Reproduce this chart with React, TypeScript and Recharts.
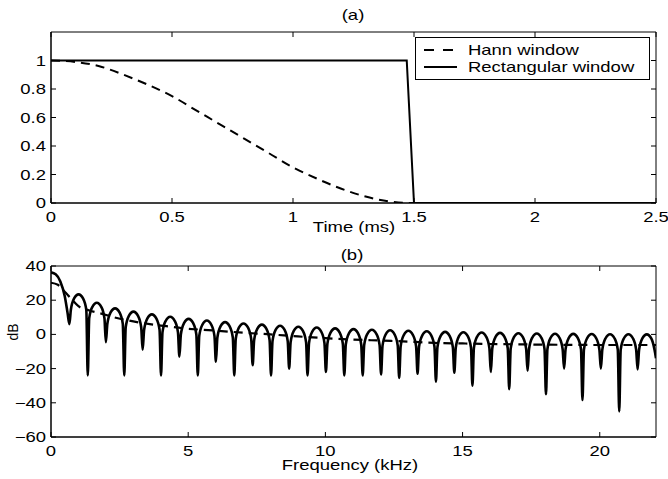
import { LineChart, Line, XAxis, YAxis, ReferenceArea, Legend } from 'recharts';

// (a) time domain windows
const timeTicks = [0, 0.5, 1, 1.5, 2, 2.5];
const ampTicks = [0, 0.2, 0.4, 0.6, 0.8, 1];
const hannTime = [0, 0.1, 0.2, 0.3, 0.4, 0.5, 0.6, 0.7, 0.8, 0.9, 1.0, 1.1, 1.2, 1.3, 1.4, 1.5, 2.5];
const hannAmp = [1, 0.99, 0.96, 0.9, 0.83, 0.75, 0.65, 0.55, 0.45, 0.35, 0.25, 0.17, 0.1, 0.045, 0.01, 0, 0];
const rectTime = [0, 1.47, 1.5, 2.5];
const rectAmp = [1, 1, 0, 0];

// (b) spectra
const freqTicks = [0, 5, 10, 15, 20];
const dbTicks = [-60, -40, -20, 0, 20, 40];
const hannFreq = [0, 0.25, 0.5, 0.7, 1.0, 1.4, 1.8, 2.4, 3.0, 3.6, 4.2, 4.8, 5.4, 6.0, 7.0, 8.0, 9.0, 10.0, 11.0, 12.0, 13.0, 14.0, 15.0, 16.0, 17.0, 18.0, 19.0, 20.0, 21.0, 22.05];
const hannDb = [30.2, 29, 25, 21.5, 16.5, 14, 12.3, 9.6, 7.6, 6, 4.8, 3.6, 2.8, 2.2, 1.0, 0, -1.2, -2.2, -3.0, -3.6, -4.2, -5.0, -5.3, -5.6, -5.8, -6.0, -6.1, -6.2, -6.2, -6.2];

const mainLobeFreq = [0, 0.17, 0.34, 0.5, 0.6];
const mainLobeDb = [36.3, 35.2, 31, 22.5, 13];
const nullKHz = [0.67, 1.34, 2.0, 2.67, 3.34, 4.01, 4.68, 5.35, 6.01, 6.68, 7.35, 8.02, 8.68, 9.35, 10.02, 10.69, 11.36, 12.03, 12.69, 13.36, 14.03, 14.7, 15.36, 16.03, 16.7, 17.37, 18.04, 18.7, 19.37, 20.04, 20.71, 21.38, 22.05];
const nullDb = [6, -24, -4.5, -24, -9, -24, -13, -24, -16, -24, -18, -24, -20, -24, -22, -24, -24, -23.4, -25.4, -23, -27.7, -22.4, -30, -22, -32, -21.3, -35, -20, -38.4, -20, -45, -20.5, -14];
const lobePeakDb = [23.4, 18.5, 15.2, 13.3, 11.7, 10.3, 9.1, 8.1, 7.2, 6.4, 5.7, 5.1, 4.5, 4.0, 3.5, 3.1, 2.7, 2.4, 2.1, 1.8, 1.5, 1.3, 1.1, 0.9, 0.7, 0.5, 0.4, 0.3, 0.2, 0.1, 0.1, 0.0];
// typical side-lobe outline, relative to its peak
const lobeShapePos = [0.08, 0.25, 0.5, 0.75, 0.92];
const lobeShapeDb = [-9, -2.5, 0, -2.5, -9];

const legendItems = [
  { label: 'Hann window', dash: '10 9' },
  { label: 'Rectangular window', dash: undefined },
];

const hannWin = hannTime.map((t, i) => ({ t, v: hannAmp[i] }));
const rectWin = rectTime.map((t, i) => ({ t, v: rectAmp[i] }));
const hannSpec = hannFreq.map((f, i) => ({ f, v: hannDb[i] }));

const rectSpec: { f: number; v: number }[] = mainLobeFreq.map((f, i) => ({ f, v: mainLobeDb[i] }));
lobePeakDb.forEach((peak, i) => {
  const a = nullKHz[i];
  const w = nullKHz[i + 1] - a;
  rectSpec.push({ f: a, v: nullDb[i] });
  lobeShapePos.forEach((p, j) => rectSpec.push({ f: a + p * w, v: peak + lobeShapeDb[j] }));
});
rectSpec.push({ f: nullKHz[nullKHz.length - 1], v: nullDb[nullDb.length - 1] });

const FONT = '"Liberation Sans", Arial, Helvetica, sans-serif';
const SX = 1.32;
const W = 668;

const Txt = ({ x, y, anchor = 'middle', children }: any) => (
  <g transform={`translate(${x},${y})`}>
    <text transform={`scale(${SX},1)`} textAnchor={anchor} fontFamily={FONT} fontSize={14} fill="#000">
      {children}
    </text>
  </g>
);

const fmt = (v: number) => String(v).replace('-', '\u2212');

const makeXTick = (top: number) => (props: any) => {
  const { x, y, payload } = props;
  return (
    <g>
      <line x1={x} x2={x} y1={y} y2={y - 5} stroke="#000" />
      <line x1={x} x2={x} y1={top} y2={top + 5} stroke="#000" />
      <Txt x={x} y={y + 19}>{fmt(payload.value)}</Txt>
    </g>
  );
};

const makeYTick = (right: number) => (props: any) => {
  const { x, y, payload } = props;
  return (
    <g>
      <line x1={x} x2={x + 5} y1={y} y2={y} stroke="#000" />
      <line x1={right} x2={right - 5} y1={y} y2={y} stroke="#000" />
      <Txt x={x - 5} y={y + 5} anchor="end">{fmt(payload.value)}</Txt>
    </g>
  );
};

const renderLegend = () => (
  <svg width={236} height={43} style={{ display: 'block' }}>
    <rect x={0.5} y={0.5} width={234} height={42} fill="#fff" stroke="#000" />
    {legendItems.map((item, i) => (
      <g key={item.label}>
        <line x1={9} x2={42} y1={13 + i * 17} y2={13 + i * 17} stroke="#000" strokeWidth={2} strokeDasharray={item.dash} />
        <Txt x={53} y={18 + i * 17} anchor="start">{item.label}</Txt>
      </g>
    ))}
  </svg>
);

const topMargin = { top: 32, right: 12, bottom: 0, left: 0 };
const botMargin = { top: 26, right: 12, bottom: 0, left: 0 };

export default function App() {
  return (
    <div style={{ position: 'absolute', left: 0, top: 0, width: W, height: 479, background: '#fff' }}>
      <LineChart width={W} height={240} margin={topMargin}>
        <XAxis
          type="number"
          dataKey="t"
          domain={[0, 2.5]}
          ticks={timeTicks}
          allowDataOverflow
          tickSize={0}
          tickMargin={0}
          tickLine={false}
          height={37}
          stroke="#000"
          tick={makeXTick(topMargin.top)}
        />
        <YAxis
          type="number"
          domain={[0, 1.2]}
          ticks={ampTicks}
          allowDataOverflow
          tickSize={0}
          tickMargin={0}
          tickLine={false}
          width={51}
          stroke="#000"
          tick={makeYTick(W - topMargin.right)}
        />
        <ReferenceArea x1={0} x2={2.5} y1={0} y2={1.2} fill="none" fillOpacity={0} stroke="#000" strokeWidth={1} />
        <Line data={hannWin} dataKey="v" type="monotone" stroke="#000" strokeWidth={2} strokeDasharray="9 6" dot={false} activeDot={false} isAnimationActive={false} />
        <Line data={rectWin} dataKey="v" type="linear" stroke="#000" strokeWidth={2} dot={false} activeDot={false} isAnimationActive={false} />
        <Legend
          layout="vertical"
          align="center"
          verticalAlign="middle"
          content={renderLegend}
          wrapperStyle={{ left: 415, top: 37, width: 236, height: 43 }}
        />
        <Txt x={353} y={20}>(a)</Txt>
        <Txt x={354} y={232}>Time (ms)</Txt>
      </LineChart>
      <div style={{ position: 'absolute', left: 0, top: 240 }}>
        <LineChart width={W} height={239} margin={botMargin}>
          <XAxis
            type="number"
            dataKey="f"
            domain={[0, 22.05]}
            ticks={freqTicks}
            allowDataOverflow
            tickSize={0}
            tickMargin={0}
            tickLine={false}
            height={42}
            stroke="#000"
            tick={makeXTick(botMargin.top)}
          />
          <YAxis
            type="number"
            domain={[-60, 40]}
            ticks={dbTicks}
            allowDataOverflow
            tickSize={0}
            tickMargin={0}
            tickLine={false}
            width={51}
            stroke="#000"
            tick={makeYTick(W - botMargin.right)}
          />
          <ReferenceArea x1={0} x2={22.05} y1={-60} y2={40} fill="none" fillOpacity={0} stroke="#000" strokeWidth={1} />
          <Line data={hannSpec} dataKey="v" type="monotone" stroke="#000" strokeWidth={2.2} strokeDasharray="9 6" dot={false} activeDot={false} isAnimationActive={false} />
          <Line data={rectSpec} dataKey="v" type="monotone" stroke="#000" strokeWidth={2.6} dot={false} activeDot={false} isAnimationActive={false} />
          <Txt x={352} y={20}>(b)</Txt>
          <Txt x={350} y={230}>Frequency (kHz)</Txt>
          <text transform="translate(18,92) rotate(-90)" textAnchor="middle" fontFamily={FONT} fontSize={14} fill="#000">dB</text>
        </LineChart>
      </div>
    </div>
  );
}
